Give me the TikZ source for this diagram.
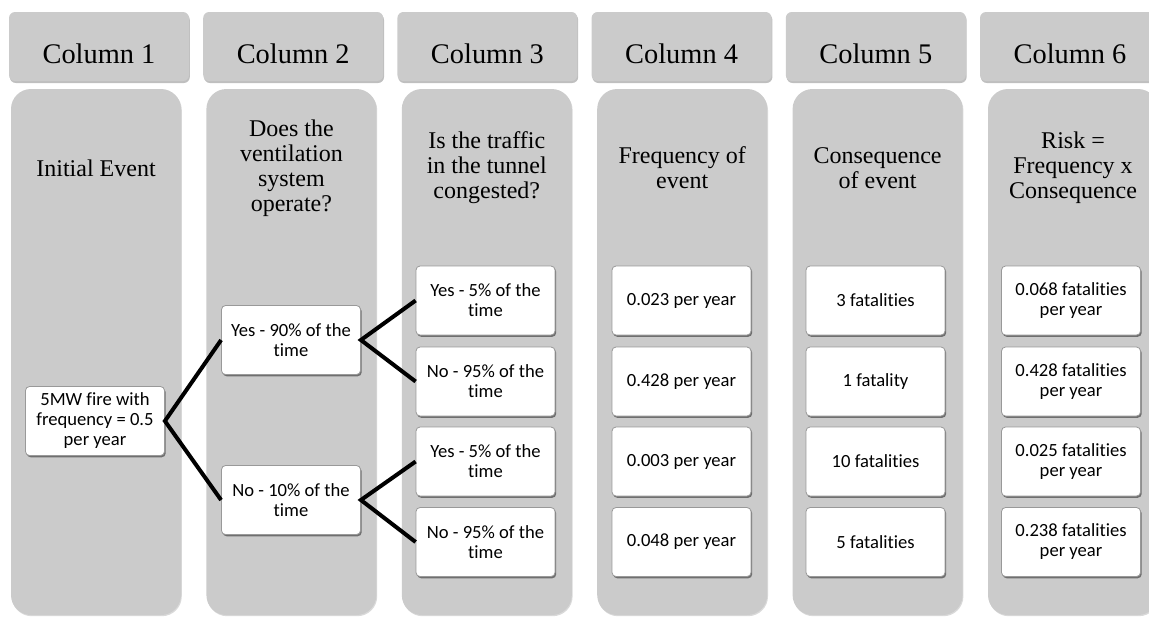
\documentclass[tikz,border=0pt]{standalone}
\usepackage{fontspec}
\setmainfont{Liberation Serif}
\newfontfamily\boxfont[Ligatures=NoCommon]{Carlito}
\usetikzlibrary{shadows}
\definecolor{panel}{HTML}{CBCBCB}
\tikzset{
  header/.style={fill=panel, rounded corners=3pt, minimum width=90pt, minimum height=34.5pt,
    drop shadow={shadow xshift=0.4pt, shadow yshift=-1pt, fill=black, opacity=0.25}},
  body/.style={fill=panel, rounded corners=10pt, minimum width=85pt, minimum height=263pt,
    drop shadow={shadow xshift=0.4pt, shadow yshift=-0.6pt, fill=black, opacity=0.15}},
  headtext/.style={font=\fontsize{14.2}{16}\selectfont, inner sep=0pt},
  bodytext/.style={font=\fontsize{12}{12.5}\selectfont, align=center, inner sep=0pt},
  evbox/.style={fill=white, draw=gray!80, line width=0.4pt, rounded corners=2pt,
    minimum width=69.5pt, minimum height=34.5pt, align=center, inner sep=1pt,
    font=\boxfont\fontsize{9.3}{10}\selectfont,
    drop shadow={shadow xshift=0.6pt, shadow yshift=-0.9pt, fill=black, opacity=0.45}},
  branch/.style={line width=2pt, black}
}
\begin{document}
\begin{tikzpicture}[x=0.5pt, y=-0.5pt]
\useasboundingbox (0,0) rectangle (1149,617);
% headers
\foreach \i/\t in {1/Column 1,2/Column 2,3/Column 3,4/Column 4,5/Column 5,6/Column 6}{
  \node[header] (h\i) at ({99+194.2*(\i-1)},46.5) {};
  \node[headtext] (ht\i) at ({99+194.2*(\i-1)},54) {\t};
}
% bodies
\foreach \i in {1,...,6}{
  \node[body] (b\i) at ({96+195.4*(\i-1)},352) {};
}
\node[bodytext] (q1) at (96,168) {Initial Event};
\node[bodytext] (q2) at (291.4,168) {Does the\\ventilation\\system\\operate?};
\node[bodytext] (q3) at (486.8,168) {Is the traffic\\in the tunnel\\congested?};
\node[bodytext] (q4) at (682.2,168) {Frequency of\\event};
\node[bodytext] (q5) at (877.6,168) {Consequence\\of event};
\node[bodytext] (q6) at (1073,168) {Risk =\\Frequency x\\Consequence};
% boxes
\node[evbox] (init) at (95,421) {5MW fire with\\frequency = 0.5\\per year};
\node[evbox] (vy) at (291,340) {Yes - 90\% of the\\time};
\node[evbox] (vn) at (291,500) {No - 10\% of the\\time};
\node[evbox] (t1) at (485.5,300.5) {Yes - 5\% of the\\time};
\node[evbox] (t2) at (485.5,381.5) {No - 95\% of the\\time};
\node[evbox] (t3) at (485.5,461.5) {Yes - 5\% of the\\time};
\node[evbox] (t4) at (485.5,542) {No - 95\% of the\\time};
\node[evbox] (f1) at (681.5,300.5) {0.023 per year};
\node[evbox] (f2) at (681.5,381.5) {0.428 per year};
\node[evbox] (f3) at (681.5,461.5) {0.003 per year};
\node[evbox] (f4) at (681.5,542) {0.048 per year};
\node[evbox] (c1) at (875.5,300.5) {3 fatalities};
\node[evbox] (c2) at (875.5,381.5) {1 fatality};
\node[evbox] (c3) at (875.5,461.5) {10 fatalities};
\node[evbox] (c4) at (875.5,542) {5 fatalities};
\node[evbox] (r1) at (1071,300.5) {0.068 fatalities\\per year};
\node[evbox] (r2) at (1071,381.5) {0.428 fatalities\\per year};
\node[evbox] (r3) at (1071,461.5) {0.025 fatalities\\per year};
\node[evbox] (r4) at (1071,542) {0.238 fatalities\\per year};
% branches
\draw[branch] (vy.west) -- (init.east) -- (vn.west);
\draw[branch] (t1.west) -- (vy.east) -- (t2.west);
\draw[branch] (t3.west) -- (vn.east) -- (t4.west);
\end{tikzpicture}
\end{document}
